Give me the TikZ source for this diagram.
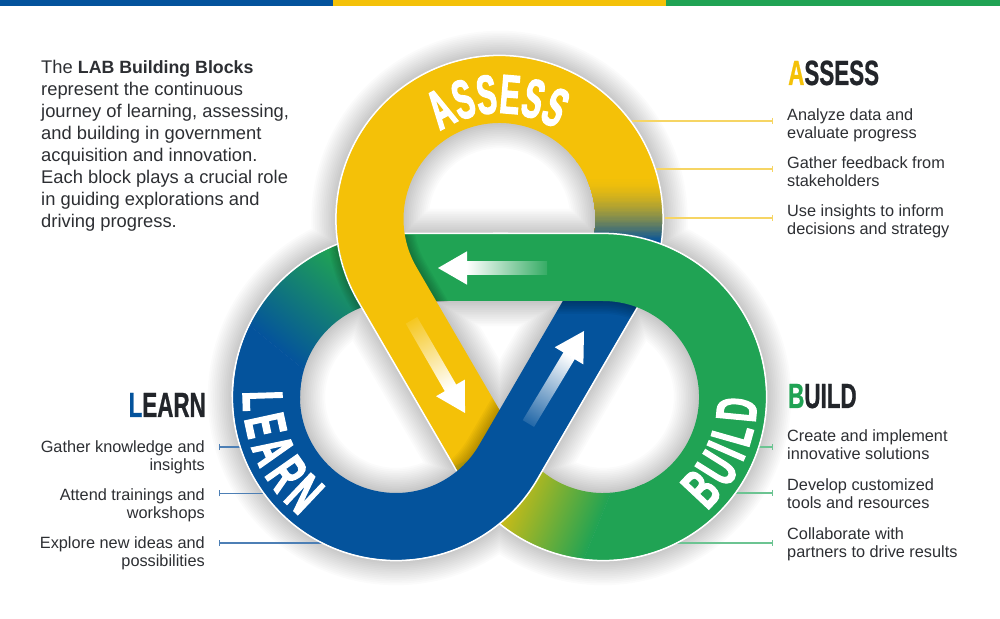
\documentclass[tikz,border=0pt]{standalone}
\usepackage{fontspec}
\usetikzlibrary{calc,arrows.meta,decorations.text}
\setmainfont{Liberation Sans}
\newfontfamily\ribfont[FakeStretch=0.54,FakeBold=2.2]{Liberation Sans}
\newfontfamily\ribwide[FakeStretch=0.57,FakeBold=2.2]{Liberation Sans}
\newfontfamily\headfont[FakeStretch=0.64,FakeBold=0.7]{Liberation Sans}
\definecolor{labY}{HTML}{F4C108}
\definecolor{labG}{HTML}{20A354}
\definecolor{labB}{HTML}{04539C}
\definecolor{labT}{HTML}{2D2F33}
\definecolor{labH}{HTML}{22252A}
\definecolor{leadY}{HTML}{F6D564}
\definecolor{leadG}{HTML}{6CC492}
\definecolor{leadB}{HTML}{4D7FB5}
\newcommand\rcc{129.5}
\newcommand\rod{163.6}
% closed centre line of the ribbon
\newcommand\RibAll{(C1)++(-30:\rcc) arc (-30:210:\rcc) -- ($(C2)+(210:\rcc)$) arc (210:450:\rcc) -- ($(C3)+(90:\rcc)$) arc (90:330:\rcc) -- cycle}
% parts, #1 = radius
\newcommand\PY[1]{(C1)++(36:#1) arc (36:210:#1) -- ($(C2)+(210:#1)$)}
\newcommand\PGR[1]{(C2)++(290:#1) arc (290:450:#1) -- ($(C2)+(90:#1)+(-110,0)$)}
\newcommand\PBL[1]{(C3)++(170:#1) arc (170:330:#1) -- ($(C3)!.52!(C1)+(-30:#1)$)}
\newcommand\SEC[3]{($(#1)+(#2:96)$) arc (#2:#3:96) -- ($(#1)+(#3:163)$) arc (#3:#2:163) -- cycle}
\newcommand\softrib[4]{\foreach \k in {1,...,#2}{\pgfmathsetmacro\wd{67+2*\k*#3}\draw[black,draw opacity=#4,line width=\wd pt,line join=round] #1;}}
% fading arrow, tip at #1, angle #2, total length #3, tail colour #4, mid colour #5
\newcommand\fadearrow[5]{\begin{scope}[transform canvas={shift={#1},rotate=#2}]
\fill[white] (0,0) -- (-29,16.7) -- (-29,-16.7) -- cycle;
\shade[left color=#4,middle color=#5,right color=white] (-#3,-6.6) rectangle (-28.5,6.6);
\end{scope}}
\tikzset{
 band/.style={line width=67pt},
 edge/.style={white,line width=1.5pt},
 leader/.style={line width=1.1pt,-{Bar[width=6pt,length=1pt]}},
 body/.style={inner sep=0pt,text=labT,font=\fontsize{16.3}{18}\selectfont},
 intro/.style={inner sep=0pt,text=labT,font=\fontsize{18.35}{22}\selectfont,align=left,anchor=north west},
 heading/.style={inner sep=0pt,text=labH,font=\headfont\bfseries\fontsize{35}{35}\selectfont},
}
\newcommand\ribstyle{\ribfont\bfseries\fontsize{55}{55}\selectfont\color{white}}
\newcommand\ribstylew{\ribwide\bfseries\fontsize{57}{57}\selectfont\color{white}}
\begin{document}
\begin{tikzpicture}[x=1pt,y=1pt]
\useasboundingbox (0,0) rectangle (1000,618);
\fill[white] (0,0) rectangle (1000,618);
\coordinate (C1) at (499.5,399);
\coordinate (C2) at (603,221);
\coordinate (C3) at (396,221);
% top bar
\fill[labB] (0,612) rectangle (333.5,618);
\fill[labY] (333.3,612) rectangle (666.5,618);
\fill[labG] (666.3,612) rectangle (1000,618);
% ground shadow
\begin{scope}[shift={(0,-6)}]
\softrib{\RibAll}{14}{1.8}{0.015}
\end{scope}
% leaders
\coordinate (a1s) at (632,497); \coordinate (a1e) at (773,497);
\coordinate (a2s) at (656,449); \coordinate (a2e) at (773,449);
\coordinate (a3s) at (664.5,400); \coordinate (a3e) at (773,400);
\coordinate (b1s) at (758,171); \coordinate (b1e) at (773,171);
\coordinate (b2s) at (735,125); \coordinate (b2e) at (773,125);
\coordinate (b3s) at (677,75); \coordinate (b3e) at (773,75);
\coordinate (l1s) at (242,171); \coordinate (l1e) at (219,171);
\coordinate (l2s) at (265,124.5); \coordinate (l2e) at (219,124.5);
\coordinate (l3s) at (322,75); \coordinate (l3e) at (219,75);
\draw[leader,leadY] (a1s) -- (a1e);
\draw[leader,leadY] (a2s) -- (a2e);
\draw[leader,leadY] (a3s) -- (a3e);
\draw[leader,leadG] (b1s) -- (b1e);
\draw[leader,leadG] (b2s) -- (b2e);
\draw[leader,leadG] (b3s) -- (b3e);
\draw[leader,leadB] (l1s) -- (l1e);
\draw[leader,leadB] (l2s) -- (l2e);
\draw[leader,leadB] (l3s) -- (l3e);
% --- green, left part (goes under yellow)
\draw[band,labG] (C3)++(90:\rcc) arc (90:100:\rcc) (C3)++(90:\rcc) -- ++(112,0);
\begin{scope}
\clip \SEC{C3}{90}{182};
\begin{scope}[transform canvas={shift={(297,325)},rotate=230.9}]
\fill[labG] (-400,-400) rectangle (-55,400);
\fill[labB] (55,-400) rectangle (400,400);
\shade[left color=labG,right color=labB] (-55.2,-400) rectangle (55.2,400);
\end{scope}
\end{scope}
\draw[edge] (C3)++(180:\rod) arc (180:90:\rod) -- ++(112,0);
% shadow of yellow on green
\begin{scope}
\clip (396,316) rectangle (520,383) \SEC{C3}{90}{180};
\softrib{\PY{\rcc}}{8}{1.3}{0.035}
\end{scope}
% --- blue, upper part (goes under green)
\draw[band,labB] ($(C3)!.5!(C1)+(-30:\rcc)$) -- ($(C1)+(-30:\rcc)$) arc (-30:-25:\rcc);
\begin{scope}
\clip \SEC{C1}{-30}{37};
\fill[labY] (330,300) rectangle (670,520);
\foreach \p in {0,2,...,100}{
  \pgfmathsetmacro\yy{440-0.63*\p}
  \pgfmathtruncatemacro\q{100-100*(\p/100)^1.6}
  \fill[labY!\q!labB] (330,300) rectangle (670,\yy);
}
\end{scope}
\draw[edge] (C1)++(36:\rod) arc (36:-30:\rod) -- ($(C3)!.5!(C1)+(-30:\rod)$);
% --- yellow
\draw[band,labY] \PY{\rcc};
\draw[edge] \PY{\rod};
% shadow of green on blue
\begin{scope}
\clip ($(C1)+(-30:96)$) -- ($(C1)+(-30:163)$) -- ($(C3)!.5!(C1)+(-30:163)$) -- ($(C3)!.5!(C1)+(-30:96)$) -- cycle;
\softrib{\PGR{\rcc}}{8}{1.6}{0.04}
\end{scope}
% --- green, right part
\begin{scope}
\clip \SEC{C2}{205}{295};
\begin{scope}[transform canvas={shift={(546,99)},rotate=-22.3}]
\fill[labY!88!labG] (-400,-400) rectangle (-50,400);
\fill[labG] (50,-400) rectangle (400,400);
\shade[left color=labY!88!labG,right color=labG] (-50.2,-400) rectangle (50.2,400);
\end{scope}
\end{scope}
\draw[band,labG] \PGR{\rcc};
\draw[edge] (C2)++(210:\rod) arc (210:450:\rod) -- ++(-110,0);
% shadow of blue on yellow
\begin{scope}
\clip ($(C1)+(210:96)$) -- ($(C1)+(210:163)$) -- ($(C2)+(210:163)$) -- ($(C2)+(210:96)$) -- cycle;
\softrib{\PBL{\rcc}}{8}{1.6}{0.03}
\end{scope}
% --- blue, lower part
\draw[band,labB] \PBL{\rcc};
\draw[edge] (C3)++(170:\rod) arc (170:330:\rod) -- ($(C3)!.52!(C1)+(-30:\rod)$);
% arrows on the ribbon
\fadearrow{(438,350)}{180}{109}{labG!90!white}{labG!22!white}
\fadearrow{(465,205)}{-60}{107}{labY!90!white}{labY!15!white}
\fadearrow{(584,287)}{59}{108}{labB!88!white}{labB!45!white}
% words on the ribbon
\path[decorate,decoration={text along path,text align={fit to path},text={|\ribstyle|ASSESS}}]
  (C1)++(124:106) arc (124:58:106);
\path[decorate,decoration={text along path,text align={fit to path},text={|\ribstylew|LEARN}}]
  (C3)++(178:153) arc (178:231:153);
\path[decorate,decoration={text along path,text align={fit to path},text={|\ribstylew|BUILD}}]
  (C2)++(-47.5:154) arc (-47.5:-1:154);
% headings
\node[heading,anchor=base west] (hA) at (788,533) {\textcolor{labY}{A}SSESS};
\node[heading,anchor=base west] (hB) at (788,210) {\textcolor{labG}{B}UILD};
\node[heading,anchor=base east] (hL) at (206,201) {\textcolor{labB}{L}EARN};
% lists
\node[body,anchor=north west,align=left] (a1) at (787,510) {Analyze data and\\evaluate progress};
\node[body,anchor=north west,align=left] (a2) at (787,462) {Gather feedback from\\stakeholders};
\node[body,anchor=north west,align=left] (a3) at (787,414) {Use insights to inform\\decisions and strategy};
\node[body,anchor=north west,align=left] (b1) at (787,189) {Create and implement\\innovative solutions};
\node[body,anchor=north west,align=left] (b2) at (787,140) {Develop customized\\tools and resources};
\node[body,anchor=north west,align=left] (b3) at (787,91) {Collaborate with\\partners to drive results};
\node[body,anchor=north east,align=right] (l1) at (205,178) {Gather knowledge and\\insights};
\node[body,anchor=north east,align=right] (l2) at (205,130) {Attend trainings and\\workshops};
\node[body,anchor=north east,align=right] (l3) at (205,82) {Explore new ideas and\\possibilities};
% intro
\node[intro] (intro) at (41,558) {The {\fontsize{17.75}{22}\selectfont\bfseries LAB Building Blocks}\\represent the continuous\\journey of learning, assessing,\\and building in government\\acquisition and innovation.\\Each block plays a crucial role\\in guiding explorations and\\driving progress.};
\end{tikzpicture}
\end{document}
